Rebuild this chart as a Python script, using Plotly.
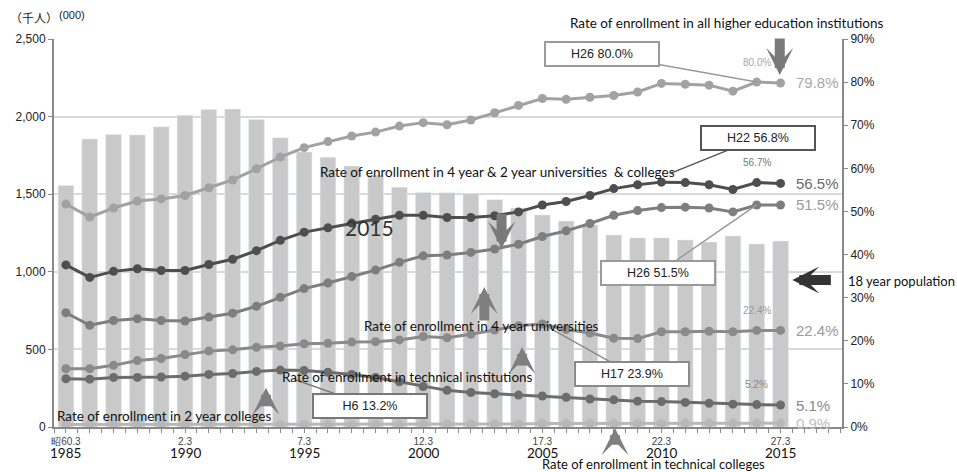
import plotly.graph_objects as go

# --- data -------------------------------------------------------------
years = list(range(1985, 2016))

# 18-year-old population (thousands)
population = [1556, 1856, 1884, 1882, 1934, 2008, 2046, 2049, 1982, 1863,
              1772, 1738, 1681, 1623, 1545, 1511, 1510, 1502, 1465, 1411,
              1366, 1327, 1301, 1237, 1218, 1218, 1205, 1192, 1231, 1179,
              1198]

# enrollment rates (%)
rate_all_higher = [51.7, 48.7, 50.8, 52.4, 52.9, 53.7, 55.5, 57.3, 59.9, 62.6,
                   64.8, 66.2, 67.5, 68.4, 69.8, 70.6, 70.1, 71.2, 72.9, 74.6,
                   76.2, 76.0, 76.5, 76.9, 77.7, 79.7, 79.5, 79.3, 77.9, 80.0,
                   79.8]
rate_univ_college = [37.6, 34.7, 36.1, 36.7, 36.3, 36.3, 37.7, 38.9, 40.9, 43.3,
                     45.2, 46.2, 47.3, 48.2, 49.1, 49.1, 48.6, 48.6, 49.0, 49.9,
                     51.5, 52.3, 53.7, 55.3, 56.2, 56.8, 56.7, 56.2, 55.1, 56.7,
                     56.5]
rate_univ_4yr = [26.5, 23.6, 24.7, 25.1, 24.7, 24.6, 25.5, 26.4, 28.0, 30.1,
                 32.1, 33.4, 34.9, 36.4, 38.2, 39.7, 39.9, 40.5, 41.3, 42.4,
                 44.2, 45.5, 47.2, 49.1, 50.2, 50.9, 51.0, 50.8, 49.9, 51.5,
                 51.5]
rate_technical_inst = [13.5, 13.5, 14.3, 15.4, 15.9, 16.8, 17.6, 17.9, 18.5, 18.8,
                       19.3, 19.4, 19.7, 19.8, 20.2, 21.0, 20.7, 21.5, 22.5, 23.5,
                       23.9, 22.6, 21.8, 20.6, 20.5, 22.1, 22.1, 22.2, 22.1, 22.4,
                       22.4]
rate_2yr_college = [11.2, 11.1, 11.5, 11.5, 11.6, 11.8, 12.2, 12.4, 12.9, 13.2,
                    13.1, 12.7, 12.2, 11.5, 10.5, 9.4, 8.5, 8.0, 7.7, 7.4,
                    7.2, 6.9, 6.5, 6.3, 6.0, 5.9, 5.7, 5.5, 5.3, 5.2,
                    5.1]
rate_tech_college = [0.6, 0.6, 0.6, 0.6, 0.6, 0.6, 0.6, 0.6, 0.6, 0.6,
                     0.6, 0.6, 0.6, 0.6, 0.6, 0.7, 0.7, 0.7, 0.7, 0.7,
                     0.8, 0.8, 0.8, 0.8, 0.8, 0.8, 0.9, 0.9, 0.9, 0.9,
                     0.9]

tick_years = [1985, 1990, 1995, 2000, 2005, 2010, 2015]
era_labels = ["昭60.3", "2.3", "7.3", "12.3", "17.3", "22.3", "27.3"]

BAR_COLOR = "#c9c9c9"
TEXT_FONT = "Lato"
NUM_FONT = "Liberation Sans"

fig = go.Figure()

fig.add_trace(go.Bar(x=years, y=population, marker_color=BAR_COLOR,
                     width=0.66, yaxis="y", name="18 year population"))

series = [
    (rate_all_higher, "#a2a2a2"),
    (rate_univ_college, "#4e4e4e"),
    (rate_univ_4yr, "#7e7e7e"),
    (rate_technical_inst, "#8a8a8a"),
    (rate_2yr_college, "#6c6c6c"),
    (rate_tech_college, "#b8b8b8"),
]
for values, color in series:
    fig.add_trace(go.Scatter(x=years, y=values, yaxis="y2", mode="lines+markers",
                             line={"color": color, "width": 3},
                             marker={"color": color, "size": 9}))

ann = []

# end-of-series value labels
end_labels = [
    (rate_all_higher[-1], "79.8%", "#a8a8a8"),
    (rate_univ_college[-1], "56.5%", "#6a6a6a"),
    (rate_univ_4yr[-1], "51.5%", "#9a9a9a"),
    (rate_technical_inst[-1], "22.4%", "#9a9a9a"),
    (rate_2yr_college[-1], "5.1%", "#888888"),
    (rate_tech_college[-1], "0.9%", "#c0c0c0"),
]
for val, txt, col in end_labels:
    ann.append(dict(x=2015.55, y=val, xref="x", yref="y2", text=txt, showarrow=False,
                    xanchor="left", yanchor="middle",
                    font={"family": NUM_FONT, "size": 15, "color": col}))

# small value labels above 2014 point
small_labels = [(rate_all_higher[-2], "80.0%", "#a8a8a8"),
                (rate_univ_college[-2], "56.7%", "#777777"),
                (rate_technical_inst[-2], "22.4%", "#999999"),
                (rate_2yr_college[-2], "5.2%", "#888888")]
for val, txt, col in small_labels:
    ann.append(dict(x=2014, y=val, xref="x", yref="y2", text=txt, showarrow=False,
                    yshift=20, font={"family": NUM_FONT, "size": 10, "color": col}))

# callout boxes
boxes = [
    ("H26 80.0%", 2007.5, 86.5, 2014, 80.0, "#9a9a9a"),
    ("H22 56.8%", 2014.05, 67.0, 2010.4, 58.9, "#555555"),
    ("H26 51.5%", 2009.85, 35.7, 2014, 51.5, "#9a9a9a"),
    ("H17 23.9%", 2008.75, 12.3, 2005, 23.9, "#8a8a8a"),
    ("H6 13.2%", 1997.75, 4.9, 1994.6, 11.0, "#777777"),
]
for txt, bx, by, px, py, col in boxes:
    ann.append(dict(x=px, y=py, xref="x", yref="y2", ax=bx, ay=by, axref="x", ayref="y2",
                    text=txt, showarrow=True, arrowhead=0, arrowwidth=1.5, arrowcolor=col,
                    bgcolor="white", bordercolor=col, borderwidth=2, borderpad=3,
                    width=106, height=16,
                    font={"family": NUM_FONT, "size": 12.5, "color": "#222"}))

# descriptive texts (paper coordinates)
texts = [
    ("Rate of enrollment in all higher education institutions", 0.853, 1.041, "center", 13.5),
    ("Rate of enrollment in 4 year &amp; 2 year universities  &amp; colleges", 0.563, 0.657, "center", 13.5),
    ("Rate of enrollment in 4 year universities", 0.543, 0.260, "center", 13.5),
    ("Rate of enrollment in technical institutions", 0.449, 0.130, "center", 13.5),
    ("Rate of enrollment in 2 year colleges", 0.140, 0.028, "center", 13.5),
    ("18 year population", 1.0045, 0.376, "left", 13),
    ("Rate of enrollment in technical colleges", 0.761, -0.096, "center", 13),
]
for txt, x, y, anchor, size in texts:
    ann.append(dict(x=x, y=y, xref="paper", yref="paper", text=txt, showarrow=False,
                    xanchor=anchor, yanchor="middle",
                    font={"family": TEXT_FONT, "size": size, "color": "#111"}))

ann.append(dict(x=1997.76, y=46.2, xref="x", yref="y2", text="2015", showarrow=False,
                font={"family": TEXT_FONT, "size": 21, "color": "#333"}))

# year labels under the era tick labels
for yr in tick_years:
    ann.append(dict(x=yr, y=-0.068, xref="x", yref="paper", text=str(yr), showarrow=False,
                    xanchor="center", yanchor="middle",
                    font={"family": TEXT_FONT, "size": 13.5, "color": "#111"}))

# block arrows (paper coordinates of the tip, pixel offset to the tail)
arrows = [
    (0.921, 0.907, 0, -38, "#7a7a7a"),
    (0.568, 0.460, 0, -36, "#7a7a7a"),
    (0.546, 0.361, 0, 35, "#7f7f7f"),
    (0.594, 0.206, 0, 20, "#7f7f7f"),
    (0.269, 0.101, 0, 20, "#7f7f7f"),
    (0.712, -0.003, 0, 18, "#7f7f7f"),
    (0.937, 0.379, 40, 0, "#333333"),
]
for x, y, ax, ay, col in arrows:
    ann.append(dict(x=x, y=y, xref="paper", yref="paper", ax=ax, ay=ay, text="",
                    showarrow=True, arrowhead=3, arrowsize=0.45, arrowwidth=10,
                    arrowcolor=col))

# unit labels
ann.append(dict(x=-0.058, y=1.056, xref="paper", yref="paper", text="（千人）", showarrow=False,
                xanchor="left", yanchor="middle",
                font={"family": "Noto Sans CJK JP", "size": 12, "color": "#222"}))
ann.append(dict(x=0.004, y=1.062, xref="paper", yref="paper", text="(000)", showarrow=False,
                xanchor="left", yanchor="middle",
                font={"family": NUM_FONT, "size": 11, "color": "#222"}))

fig.update_layout(
    width=957, height=472,
    margin={"l": 54, "r": 115, "t": 39, "b": 45},
    paper_bgcolor="white", plot_bgcolor="white",
    showlegend=False, bargap=0.3,
    annotations=ann,
    xaxis=dict(range=[1984.5, 2017.58], tickvals=tick_years, ticktext=era_labels,
               ticks="outside", ticklen=4, tickcolor="#888", automargin=False,
               showline=True, linecolor="#888", linewidth=2, showgrid=False,
               tickfont={"family": NUM_FONT, "size": 10, "color": "#444"},
               minor=dict(tick0=1984.5, dtick=0.5, ticks="outside", ticklen=4,
                          tickcolor="#888", showgrid=False)),
    yaxis=dict(range=[0, 2500], dtick=500, tickformat=",", ticks="outside", ticklen=4,
               tickcolor="#888", showline=True, linecolor="#888", linewidth=2,
               gridcolor="#d9d9d9", gridwidth=1.5, zeroline=False, automargin=False,
               tickfont={"family": NUM_FONT, "size": 12, "color": "#222"}),
    yaxis2=dict(range=[0, 90], dtick=10, ticksuffix="%", overlaying="y", side="right",
                ticks="outside", ticklen=4, tickcolor="#888", showline=True,
                linecolor="#888", linewidth=2, showgrid=False, zeroline=False,
                automargin=False,
                tickfont={"family": NUM_FONT, "size": 12, "color": "#222"}),
)

fig.write_html("out.html", config={"displayModeBar": False},
               post_script="document.body.style.margin='0';")
